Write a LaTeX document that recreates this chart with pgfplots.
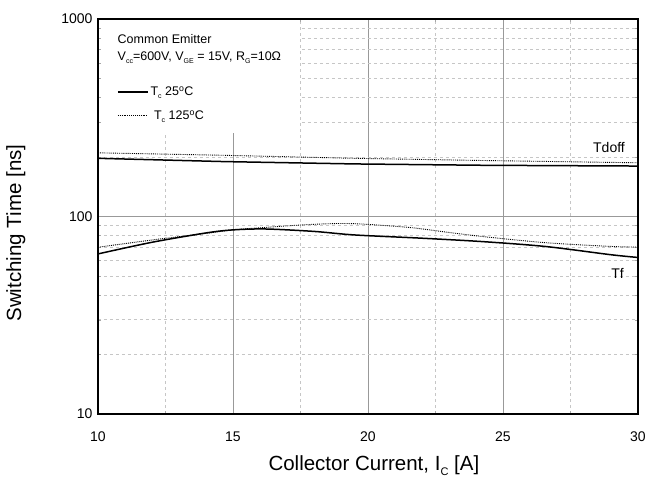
\documentclass[border=0pt]{standalone}
\usepackage{pgfplots}
\pgfplotsset{compat=1.18}
\usepackage{fontspec}
\setmainfont{Liberation Sans}
\begin{document}
\begin{tikzpicture}
\begin{axis}[
  scale only axis, width=540pt, height=395pt,
  xmin=10, xmax=30, ymode=log, ymin=10, ymax=1000,
  xtick={10,15,20,25,30}, minor x tick num=1,
  ytick={10,100,1000}, yticklabels={10,100,1000},
  minor ytick={20,30,40,50,60,70,80,90,200,300,400,500,600,700,800,900},
  log basis y=10,
  grid=both,
  major grid style={gray!80, line width=0.6pt},
  minor grid style={gray!45, dashed, line width=0.5pt},
  axis line style={line width=1.5pt},
  tick align=inside, major tick length=0pt, minor tick length=3pt,
  tick style={gray!70},
  /pgf/number format/assume math mode=true,
  tick label style={font=\fontsize{14}{16}\selectfont},
  xticklabel style={yshift=-14pt},
  yticklabel style={xshift=-2pt},
  clip=false,
  every axis x label/.style={at={(rel axis cs:0.511,-0.132)},anchor=center},
  every axis y label/.style={at={(rel axis cs:-0.152,0.458)},rotate=90,anchor=center},
  label style={font=\fontsize{20.5}{22}\selectfont},
  xlabel={Collector Current, I\raisebox{-0.45ex}{\fontsize{11}{11}\selectfont C} [A]},
  ylabel={Switching Time [ns]},
  legend style={draw=none, fill=none, at={(rel axis cs:0.035,0.834)}, anchor=north west,
    font=\fontsize{12.5}{14}\selectfont, row sep=9pt, inner sep=0pt},
  legend cell align=left,
  legend image code/.code={\draw[#1] (0pt,0pt) -- (30pt,0pt);},
]
\fill[white] ([xshift=4pt]rel axis cs:0,0.711) rectangle ([yshift=-1pt]rel axis cs:0.374,1);
\path (rel axis cs:-0.1815,-0.1696) rectangle (rel axis cs:1.0204,1.0481);
% Tf 25C
\addplot[black, line width=1.5pt, smooth] coordinates {
(10,64.6) (12,74) (14,82.5) (15,85.5) (16.2,86.4) (18,84) (19.5,80.6) (22,77.6) (24.3,74.5) (26.6,70.4) (29,64) (30,62)};
\addlegendentry{T\raisebox{-0.45ex}{\fontsize{7}{7}\selectfont c} 25\textsuperscript{o}C}
% Tf 125C
\addplot[black, line width=0.9pt, densely dotted, smooth] coordinates {
(10,69.8) (12,76) (14,82) (15,85.5) (16.2,88) (17.5,90.5) (18.7,92) (19.5,91.9) (20.5,90.2) (21.7,87.5) (23,83) (24.3,79) (26.6,73.6) (29,70.5) (30,70)};
\addlegendentry{\ T\raisebox{-0.45ex}{\fontsize{7}{7}\selectfont c} 125\textsuperscript{o}C}
% Tdoff 25C
\addplot[black, line width=1.5pt, forget plot] coordinates {
(10,197) (14.7,189.6) (19.5,184.5) (24.3,181.6) (30,180)};
% Tdoff 125C
\addplot[black, line width=0.9pt, densely dotted, forget plot] coordinates {
(10,210) (14.7,204) (19.5,197) (24.3,192) (30,187)};
\node[anchor=west, font=\fontsize{12.5}{14}\selectfont] at (rel axis cs:0.03,0.95) {Common Emitter};
\node[anchor=west, font=\fontsize{12.5}{14}\selectfont] at (rel axis cs:0.03,0.902)
 {V\raisebox{-0.45ex}{\fontsize{7}{7}\selectfont cc}=600V, V\raisebox{-0.45ex}{\fontsize{7}{7}\selectfont GE} = 15V, R\raisebox{-0.45ex}{\fontsize{7}{7}\selectfont G}=10Ω};
\node[font=\fontsize{14}{16}\selectfont] at (axis cs:28.93,224) {Tdoff};
\node[font=\fontsize{14}{16}\selectfont] at (axis cs:29.25,51.5) {Tf};
\end{axis}
\end{tikzpicture}
\end{document}
